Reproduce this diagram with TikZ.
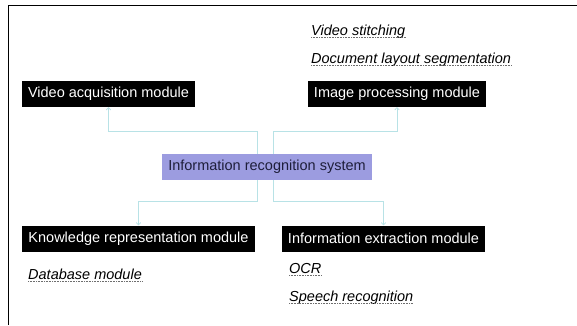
\documentclass[tikz,border=0pt]{standalone}
\usepackage{fontspec}
\setmainfont{Liberation Sans}
\usetikzlibrary{arrows.meta, positioning}
\definecolor{cblack}{HTML}{000000}
\definecolor{cviolet}{HTML}{9C9CE0}
\definecolor{cink}{HTML}{1E1E3A}
\definecolor{ccyan}{HTML}{B8E2E6}
\definecolor{cdots}{HTML}{6E6E6E}
\tikzset{
  every picture/.style={font=\fontsize{14.5}{17}\selectfont, x=1pt, y=-1pt},
  module/.style={fill=cblack, text=white, minimum height=26pt, inner sep=0pt},
  core/.style={fill=cviolet, text=cink, minimum height=26pt, minimum width=210pt, inner sep=0pt},
  link/.style={draw=ccyan, line width=0.8pt, -{To[length=3pt, width=5pt]}},
  tag/.style={font=\fontsize{14.5}{17}\selectfont\itshape, anchor=base west, inner sep=0pt,
    append after command={([yshift=-2pt]\tikzlastnode.base west) edge[draw=cdots, densely dotted, line width=0.6pt] ([yshift=-2pt]\tikzlastnode.base east)}},
}
\begin{document}
\begin{tikzpicture}
  \useasboundingbox (0,0) rectangle (577,325);
  \draw[line width=0.8pt] (8,325) -- (8,5) -- (577,5);
  % modules
  \node[core] (sys) at (267,167) {Information recognition system};
  \node[module, minimum width=173pt] (vam) at (108.5,94) {Video acquisition module};
  \node[module, minimum width=178pt] (ipm) at (397,94) {Image processing module};
  \node[module, minimum width=233pt] (krm) at (138.5,238.5) {Knowledge representation module};
  \node[module, minimum width=203pt] (iem) at (383.5,238.5) {Information extraction module};
  % sub-functions
  \node[tag] (vs) at (311,35) {Video stitching};
  \node[tag] (dls) at (311,63) {Document layout segmentation};
  \node[tag] (db) at (28,279) {Database module};
  \node[tag] (ocr) at (289,273) {OCR};
  \node[tag] (sr) at (289,301) {Speech recognition};
  % connectors
  \draw[link] ([xshift=-10pt]sys.north) -- ++(0,-22) -| (vam);
  \draw[link] ([xshift=6pt]sys.north) -- ++(0,-22) -| (ipm);
  \draw[link] ([xshift=-10pt]sys.south) -- ++(0,21) -| (krm);
  \draw[link] ([xshift=6pt]sys.south) -- ++(0,21) -| (iem);
\end{tikzpicture}
\end{document}
